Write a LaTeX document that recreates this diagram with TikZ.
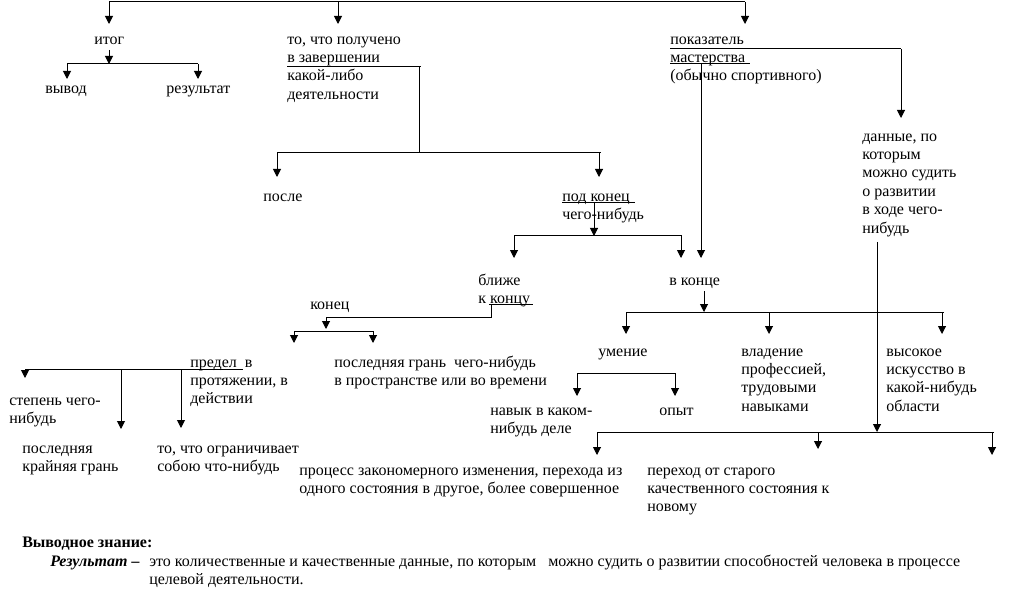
\documentclass[tikz,border=0pt]{standalone}
\usepackage{fontspec}
\setmainfont{Liberation Serif}
\usetikzlibrary{arrows.meta}
\begin{document}
\begin{tikzpicture}[x=0.75pt,y=-0.75pt,
  lbl/.style={anchor=north west, inner sep=0pt, align=left, font=\fontsize{12}{13.8}\selectfont},
  conn/.style={line width=0.75pt},
  arr/.style={conn, -{Triangle[width=6pt,length=6pt]}}]
\useasboundingbox (0,0) rectangle (1034,602);

% ---------- text nodes ----------
\node[lbl] (itog) at (94,31) {\strut итог};
\node[lbl] (vyvod) at (45,80) {\strut вывод};
\node[lbl] (rez) at (166,80) {\strut результат};
\node[lbl] (toch) at (287,31) {\strut то, что получено\\в завершении\\какой-либо\\деятельности};
\node[lbl] (pokaz) at (670,31) {\strut показатель\\мастерства\\(обычно спортивного)};
\node[lbl] (dannye) at (862,128) {\strut данные, по\\которым\\можно судить\\о развитии\\в ходе чего-\\нибудь};
\node[lbl] (posle) at (263,188) {\strut после};
\node[lbl] (podkon) at (562,188) {\strut под конец\\чего-нибудь};
\node[lbl] (blizhe) at (478,272) {\strut ближе\\к концу};
\node[lbl] (vkonce) at (669,272) {\strut в конце};
\node[lbl] (konec) at (310,296) {\strut конец};
\node[lbl] (posledgr) at (334,354) {\strut последняя грань\ \ чего-нибудь\\в пространстве или во времени};
\node[lbl] (predel) at (190,354) {\strut предел\ \ в\\протяжении, в\\действии};
\node[lbl] (stepen) at (9,392) {\strut степень чего-\\нибудь};
\node[lbl] (krain) at (22,440) {\strut последняя\\крайняя грань};
\node[lbl] (ogran) at (157,440) {\strut то, что ограничивает\\собою что-нибудь};
\node[lbl] (umenie) at (598,343) {\strut умение};
\node[lbl] (vladenie) at (741,343) {\strut владение\\профессией,\\трудовыми\\навыками};
\node[lbl] (vysokoe) at (886,343) {\strut высокое\\искусство в\\какой-нибудь\\области};
\node[lbl] (navyk) at (490,402) {\strut навык в каком-\\нибудь деле};
\node[lbl] (opyt) at (659,402) {\strut опыт};
\node[lbl] (process) at (299,462) {\strut процесс закономерного изменения, перехода из\\одного состояния в другое, более совершенное};
\node[lbl] (perehod) at (647,462) {\strut переход от старого\\качественного состояния к\\новому};
\node[lbl] (vyvzn) at (22,534) {\strut\textbf{Выводное знание:}};
\node[lbl] (rezt) at (50,553) {\strut\textbf{\textit{Результат –}}};
\node[lbl] (def) at (149,553) {\strut это количественные и качественные данные, по которым \ \ можно судить о развитии способностей человека в процессе\\целевой деятельности.};

% ---------- coordinates ----------
\coordinate (ta) at (109,2);  \coordinate (tb) at (338,2);  \coordinate (tc) at (745,2);
\coordinate (ea) at (109,24); \coordinate (eb) at (338,24); \coordinate (ec) at (745,24);

\coordinate (i0) at (109,50); \coordinate (i1) at (109,64);
\coordinate (iL) at (67,64);  \coordinate (iR) at (198,64);
\coordinate (iLe) at (67,79); \coordinate (iRe) at (198,79);

\coordinate (u1) at (287,67); \coordinate (u2) at (421,67);
\coordinate (v1) at (419,67); \coordinate (v2) at (419,153);
\coordinate (b1) at (277,153); \coordinate (b2) at (601,153);
\coordinate (b1e) at (277,177); \coordinate (b3) at (599,153); \coordinate (b3e) at (599,177);

\coordinate (p1) at (670,49); \coordinate (p2) at (901,49); \coordinate (p3) at (901,118);
\coordinate (m1) at (670,64); \coordinate (m2) at (750,64);
\coordinate (m3) at (701,64); \coordinate (m4) at (701,258);

\coordinate (k1) at (562,203); \coordinate (k2) at (635,203);
\coordinate (k3) at (594,203); \coordinate (k4) at (594,236);
\coordinate (kL) at (514,236); \coordinate (kR) at (682,236);
\coordinate (kLe) at (514,258); \coordinate (kr) at (681,236); \coordinate (kre) at (681,258);

\coordinate (c0) at (704,291); \coordinate (c1) at (704,312);
\coordinate (cL) at (626,312); \coordinate (cR) at (944,312);
\coordinate (cLe) at (626,334); \coordinate (cM) at (769,312); \coordinate (cMe) at (769,334);
\coordinate (cr) at (942,312); \coordinate (cre) at (942,334);

\coordinate (uL) at (577,373); \coordinate (uR) at (675,373);
\coordinate (uLe) at (577,396); \coordinate (uRe) at (675,396);

\coordinate (d0) at (877,242); \coordinate (d1) at (877,432);
\coordinate (dL) at (597,432); \coordinate (dR) at (994,432);
\coordinate (dLe) at (597,455); \coordinate (dM) at (818,432); \coordinate (dMe) at (818,449);
\coordinate (dr) at (992,432); \coordinate (dre) at (992,455);

\coordinate (z1) at (489,304); \coordinate (z2) at (533,304);
\coordinate (z3) at (491,304); \coordinate (z4) at (491,317);
\coordinate (z5) at (326,317); \coordinate (z6) at (326,329);
\coordinate (yL) at (294,331); \coordinate (yR) at (373,331);
\coordinate (yLe) at (294,343); \coordinate (yRe) at (373,343);

\coordinate (qL) at (25,369); \coordinate (qR) at (243,369);
\coordinate (qLe) at (25,378);
\coordinate (q2) at (121,369); \coordinate (q2e) at (121,429);
\coordinate (q3) at (181,369); \coordinate (q3e) at (181,428);

% ---------- connectors ----------
\draw[conn] (ta) -- (tc);
\draw[arr] (ta) -- (ea); \draw[arr] (tb) -- (eb); \draw[arr] (tc) -- (ec);

\draw[arr] (i0) -- (i1);
\draw[conn] (iL) -- (iR);
\draw[arr] (iL) -- (iLe); \draw[arr] (iR) -- (iRe);

\draw[conn] (u1) -- (u2);
\draw[conn] (v1) -- (v2);
\draw[conn] (b1) -- (b2);
\draw[arr] (b1) -- (b1e); \draw[arr] (b3) -- (b3e);

\draw[conn] (p1) -- (p2);
\draw[arr] (p2) -- (p3);
\draw[conn] (m1) -- (m2);
\draw[arr] (m3) -- (m4);

\draw[conn] (k1) -- (k2);
\draw[arr] (k3) -- (k4);
\draw[conn] (kL) -- (kR);
\draw[arr] (kL) -- (kLe); \draw[arr] (kr) -- (kre);

\draw[arr] (c0) -- (c1);
\draw[conn] (cL) -- (cR);
\draw[arr] (cL) -- (cLe); \draw[arr] (cM) -- (cMe); \draw[arr] (cr) -- (cre);

\draw[conn] (uL) -- (uR);
\draw[arr] (uL) -- (uLe); \draw[arr] (uR) -- (uRe);

\draw[arr] (d0) -- (d1);
\draw[conn] (dL) -- (dR);
\draw[arr] (dL) -- (dLe); \draw[arr] (dM) -- (dMe); \draw[arr] (dr) -- (dre);

\draw[conn] (z1) -- (z2);
\draw[conn] (z3) -- (z4) -- (z5);
\draw[arr] (z5) -- (z6);
\draw[conn] (yL) -- (yR);
\draw[arr] (yL) -- (yLe); \draw[arr] (yR) -- (yRe);

\draw[conn] (qL) -- (qR);
\draw[arr] (qL) -- (qLe); \draw[arr] (q2) -- (q2e); \draw[arr] (q3) -- (q3e);
\end{tikzpicture}
\end{document}
